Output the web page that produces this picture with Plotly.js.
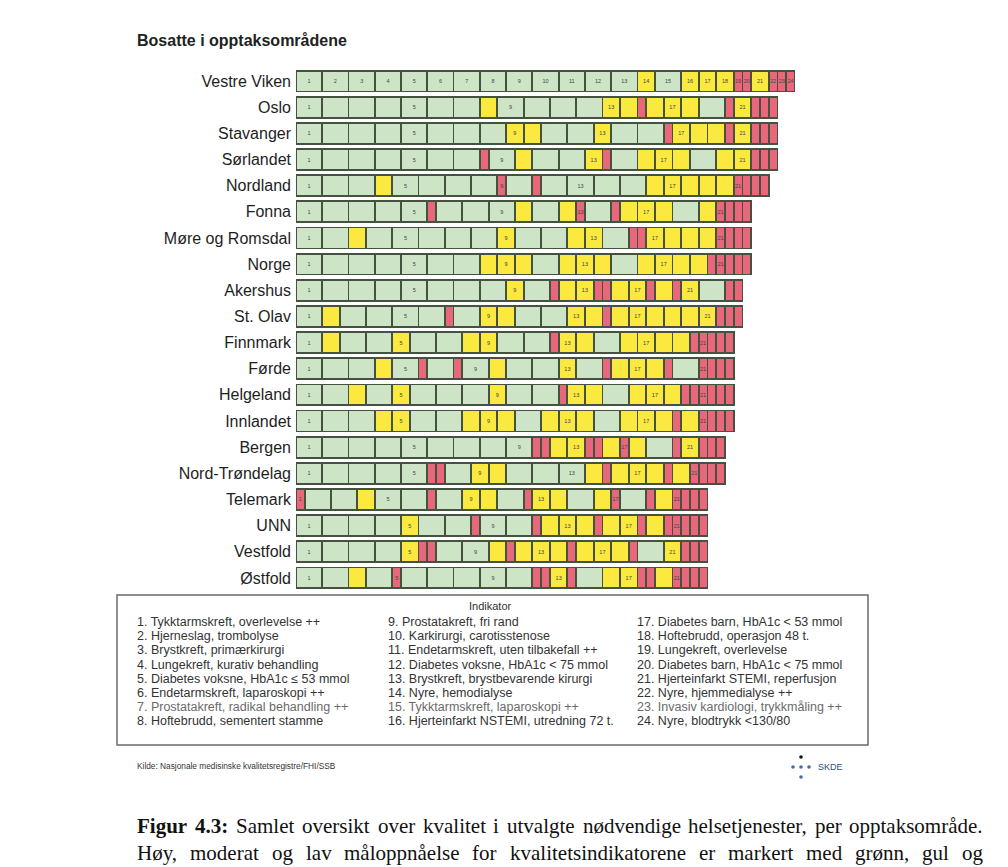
<!DOCTYPE html>
<html><head><meta charset="utf-8">
<script src="https://cdn.plot.ly/plotly-3.0.1.min.js"></script>
<style>html,body{margin:0;padding:0;background:#fff;} #chart{width:1008px;height:867px;}</style>
</head><body><div id="chart"></div>
<script>
// Region order (top to bottom)
const regions = ["Vestre Viken","Oslo","Stavanger","Sørlandet","Nordland","Fonna","Møre og Romsdal","Norge","Akershus","St. Olav","Finnmark","Førde","Helgeland","Innlandet","Bergen","Nord-Trøndelag","Telemark","UNN","Vestfold","Østfold"];
// Score per indicator 1..24: 3 = høy (grønn), 2 = moderat (gul), 1 = lav (rød)
const vestreViken   = [3,3,3,3,3,3,3,3,3,3,3,3,3,2,3,2,2,2,1,1,2,1,1,1];
const oslo          = [3,3,3,3,3,3,3,2,3,3,3,3,2,2,1,2,2,2,3,1,2,1,1,1];
const stavanger     = [3,3,3,3,3,3,3,3,2,2,3,3,2,3,3,1,2,2,2,1,2,1,1,1];
const sorlandet     = [3,3,3,3,3,3,3,1,3,2,3,3,2,1,3,2,2,2,3,2,2,1,1,1];
const nordland      = [3,3,3,2,3,3,3,3,1,3,1,3,3,3,3,2,2,2,2,2,1,1,1,1];
const fonna         = [3,3,3,3,3,1,3,3,3,2,3,2,1,3,1,2,2,2,3,2,1,1,1,1];
const moreRomsdal   = [3,3,2,3,3,3,3,3,2,3,3,2,2,3,1,1,2,2,2,2,1,1,1,1];
const norge         = [3,3,3,3,3,3,3,2,2,2,3,2,2,2,3,2,2,2,2,1,1,1,1,1];
const akershus      = [3,3,3,3,3,3,3,3,2,3,1,2,2,1,1,2,2,1,2,1,2,3,1,1];
const stOlav        = [3,2,3,3,3,3,1,3,2,2,3,3,2,2,1,2,2,2,2,2,2,1,1,1];
const finnmark      = [3,2,3,3,2,3,3,2,2,3,3,1,2,2,3,2,2,2,2,1,1,1,1,1];
const forde         = [3,3,3,2,3,1,3,1,3,2,3,3,2,3,1,2,2,2,1,3,1,1,1,1];
const helgeland     = [3,3,2,3,2,3,3,3,2,3,3,1,2,2,3,2,2,2,1,1,1,1,1,1];
const innlandet     = [3,3,3,2,2,3,3,2,2,2,3,2,2,2,3,2,2,2,1,2,1,1,1,1];
const bergen        = [3,3,3,3,3,3,3,3,3,1,1,2,2,1,1,2,1,2,3,1,2,1,1,1];
const nordTrondelag = [3,3,3,3,3,1,1,3,2,2,3,3,3,2,1,2,2,2,1,2,1,1,1,1];
const telemark      = [1,3,3,2,3,3,1,3,2,2,3,1,2,2,3,2,1,3,1,2,1,1,1,1];
const unn           = [3,3,3,3,2,3,3,1,3,3,1,2,2,2,1,2,2,1,2,1,1,1,1,1];
const vestfold      = [3,3,3,3,2,1,1,3,3,2,1,2,2,2,1,2,2,2,1,3,2,1,1,1];
const ostfold       = [3,3,2,3,1,3,3,3,3,3,1,1,2,1,3,2,2,1,1,2,1,1,1,1];

const indicatorNames = [
 "1. Tykktarmskreft, overlevelse ++","2. Hjerneslag, trombolyse","3. Brystkreft, primærkirurgi","4. Lungekreft, kurativ behandling",
 "5. Diabetes voksne, HbA1c ≤ 53 mmol","6. Endetarmskreft, laparoskopi ++","7. Prostatakreft, radikal behandling ++","8. Hoftebrudd, sementert stamme",
 "9. Prostatakreft, fri rand","10. Karkirurgi, carotisstenose","11. Endetarmskreft, uten tilbakefall ++","12. Diabetes voksne, HbA1c < 75 mmol",
 "13. Brystkreft, brystbevarende kirurgi","14. Nyre, hemodialyse","15. Tykktarmskreft, laparoskopi ++","16. Hjerteinfarkt NSTEMI, utredning 72 t.",
 "17. Diabetes barn, HbA1c < 53 mmol","18. Hoftebrudd, operasjon 48 t.","19. Lungekreft, overlevelse","20. Diabetes barn, HbA1c < 75 mmol",
 "21. Hjerteinfarkt STEMI, reperfusjon","22. Nyre, hjemmedialyse ++","23. Invasiv kardiologi, trykkmåling ++","24. Nyre, blodtrykk <130/80"];

const rows = [vestreViken,oslo,stavanger,sorlandet,nordland,fonna,moreRomsdal,norge,akershus,stOlav,finnmark,forde,helgeland,innlandet,bergen,nordTrondelag,telemark,unn,vestfold,ostfold];
const levelColor = {3:"#cde5c6", 2:"#fbe93f", 1:"#e8677a"};

const traces = [];
for (let i = 0; i < 24; i++) {
  traces.push({
    type: "bar", orientation: "h",
    y: regions,
    x: rows.map(r => r[i]),
    marker: {color: rows.map(r => levelColor[r[i]]), line: {color: "#44523f", width: 1.8}},
    text: rows.map((r, k) => (k === 0 || i % 4 === 0) ? String(i + 1) : ""),
    textposition: "inside", insidetextanchor: "middle", textangle: 0, constraintext: "none",
    textfont: {size: 5.5, color: "#444", family: "Liberation Sans"},
    hoverinfo: "skip", showlegend: false
  });
}

const ML = 296, MR = 213, MT = 68, MB = 276, W = 1008, H = 867;
const PW = W - ML - MR, PH = H - MT - MB;
const fx = px => (px - ML) / PW;
const fy = py => 1 - (py - MT) / PH;

const annotations = [];
const shapes = [];
// legend box
shapes.push({type: "rect", xref: "paper", yref: "paper", x0: fx(117), x1: fx(868), y0: fy(595), y1: fy(745),
  line: {color: "#6a6a6a", width: 1.5}, fillcolor: "rgba(0,0,0,0)"});
annotations.push({xref: "paper", yref: "paper", x: fx(490), y: fy(606), text: "Indikator", showarrow: false,
  xanchor: "center", yanchor: "middle", font: {size: 11, color: "#333", family: "Liberation Sans"}});
const colX = [135, 386, 635];
indicatorNames.forEach((t, i) => {
  const c = Math.floor(i / 8), r = i % 8;
  const light = (i === 6 || i === 14 || i === 22);
  annotations.push({xref: "paper", yref: "paper", x: fx(colX[c]), y: fy(622 + r * 14.2), text: t, showarrow: false,
    xanchor: "left", yanchor: "middle", font: {size: 12.5, color: light ? "#6a6a6a" : "#333", family: "Liberation Sans"}});
});
// source
annotations.push({xref: "paper", yref: "paper", x: fx(135), y: fy(766), text: "Kilde: Nasjonale medisinske kvalitetsregistre/FHI/SSB",
  showarrow: false, xanchor: "left", yanchor: "middle", font: {size: 8.3, color: "#333", family: "Liberation Sans"}});
// SKDE logo
const dot = (cx, cy, col) => shapes.push({type: "circle", xref: "paper", yref: "paper",
  x0: fx(cx - 1.8), x1: fx(cx + 1.8), y0: fy(cy + 1.8), y1: fy(cy - 1.8), fillcolor: col, line: {width: 0}});
dot(801, 757, "#111"); dot(793, 767, "#3d6fa8"); dot(801, 767, "#3d6fa8"); dot(809, 767, "#3d6fa8"); dot(801, 777, "#3d6fa8");
annotations.push({xref: "paper", yref: "paper", x: fx(816), y: fy(767), text: "SKDE", showarrow: false,
  xanchor: "left", yanchor: "middle", font: {size: 9, color: "#2b4f80", family: "Liberation Sans"}});

// justified caption lines
const capSize = 21;
const ctx = document.createElement("canvas").getContext("2d");
function justify(words, y, x0, x1) {
  const widths = words.map(w => { ctx.font = (w.b ? "bold " : "") + capSize + "px 'Liberation Serif'"; return ctx.measureText(w.t).width; });
  const total = widths.reduce((a, b) => a + b, 0);
  const gap = (x1 - x0 - total) / (words.length - 1);
  let x = x0;
  words.forEach((w, k) => {
    annotations.push({xref: "paper", yref: "paper", x: fx(x - 2), y: fy(y), text: w.b ? "<b>" + w.t + "</b>" : w.t, showarrow: false,
      xanchor: "left", yanchor: "middle", font: {size: capSize, color: "#111", family: "Liberation Serif"}});
    x += widths[k] + gap;
  });
}
const line1 = [{t: "Figur", b: true}, {t: "4.3:", b: true}].concat(
  "Samlet oversikt over kvalitet i utvalgte nødvendige helsetjenester, per opptaksområde.".split(" ").map(t => ({t})));
const line2 = "Høy, moderat og lav måloppnåelse for kvalitetsindikatorene er markert med grønn, gul og".split(" ").map(t => ({t}));
justify(line1, 826, 137, 983);
justify(line2, 853, 137, 983);

const layout = {
  width: W, height: H,
  margin: {l: ML, r: MR, t: MT, b: MB, pad: 0},
  paper_bgcolor: "#fff", plot_bgcolor: "#fff",
  barmode: "stack", bargap: 0.2,
  title: {text: "<b>Bosatte i opptaksområdene</b>", xref: "container", yref: "container", x: 137 / W, xanchor: "left",
    y: 1 - 40 / H, yanchor: "middle", font: {size: 16, color: "#222", family: "Liberation Sans"}},
  xaxis: {range: [0, 57], visible: false, fixedrange: true},
  yaxis: {autorange: "reversed", ticks: "", showline: false, showgrid: false, zeroline: false, ticklabelstandoff: 4,
    tickfont: {size: 16, color: "#1e1e1e", family: "Liberation Sans"}, fixedrange: true},
  annotations, shapes, hovermode: false
};
Plotly.newPlot("chart", traces, layout, {displayModeBar: false, staticPlot: true});
</script></body></html>
